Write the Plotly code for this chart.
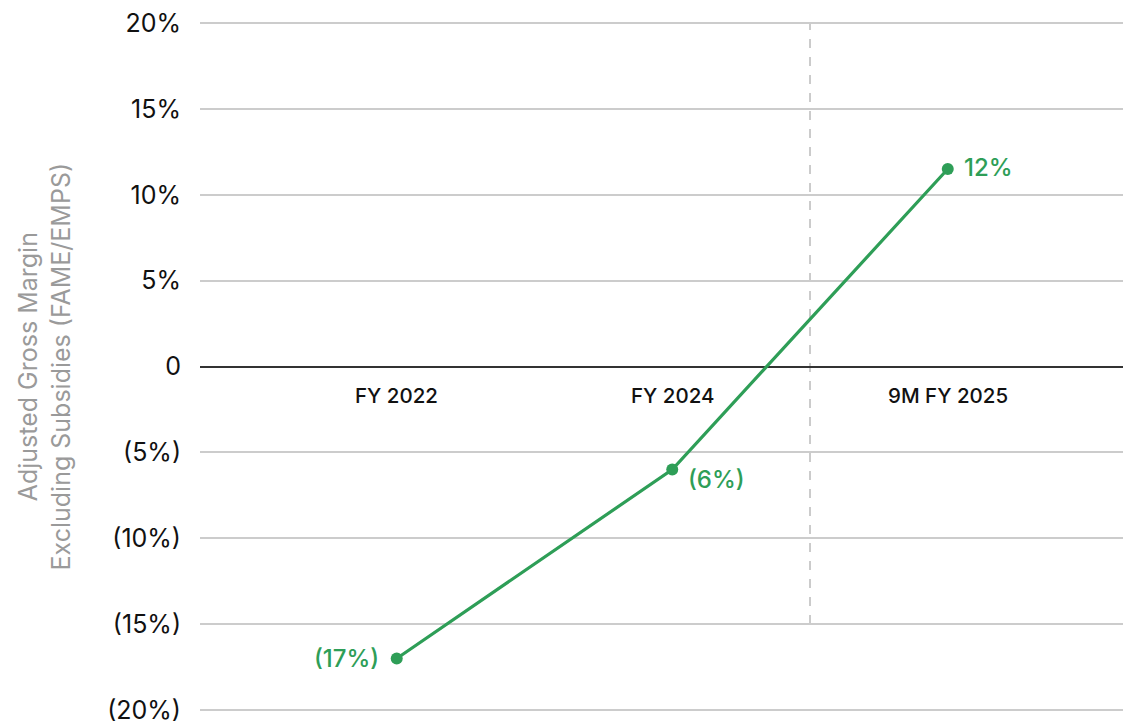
import plotly.graph_objects as go

# Adjusted gross margin excluding subsidies, in percent
periods = ["FY 2022", "FY 2024", "9M FY 2025"]
margin_pct = [-17.0, -6.0, 11.5]

y_ticks = [20, 15, 10, 5, 0, -5, -10, -15, -20]
y_tick_labels = ["20%", "15%", "10%", "5%", "0", "(5%)", "(10%)", "(15%)", "(20%)"]

GREEN = "#2E9E57"
FONT = "Inter, 'Noto Sans', sans-serif"


def fmt_pct(v):
    r = int(round(v))
    return f"({abs(r)}%)" if r < 0 else f"{r}%"


fig = go.Figure()

fig.add_trace(go.Scatter(
    x=periods,
    y=margin_pct,
    mode="lines+markers",
    line=dict(color=GREEN, width=3.2),
    marker=dict(color=GREEN, size=12),
    hoverinfo="skip",
    showlegend=False,
))

# Value labels beside each point
label_offsets = [(-16, 0, "right"), (14, -10, "left"), (14, 2, "left")]
for p, v, (dx, dy, anchor) in zip(periods, margin_pct, label_offsets):
    fig.add_annotation(
        x=p, y=v, text=fmt_pct(v), showarrow=False,
        xanchor=anchor, yanchor="middle", xshift=dx, yshift=dy,
        font=dict(family=FONT, size=24, color=GREEN, weight=500),
    )

# Period labels sitting just under the zero line
for p in periods:
    fig.add_annotation(
        x=p, y=0, text=p, showarrow=False,
        xanchor="center", yanchor="middle", yshift=-29,
        font=dict(family=FONT, size=20.5, color="#111111", weight=500),
    )

# Dashed divider between full-year and year-to-date periods
fig.add_shape(
    type="line", xref="x", yref="y",
    x0=1.5, x1=1.5, y0=-15, y1=20,
    line=dict(color="#BBBBBB", width=1.5, dash="dash"),
    layer="below",
)

# Y-axis title
fig.add_annotation(
    xref="paper", yref="paper", x=-0.168, y=0.5,
    text="Adjusted Gross Margin<br>Excluding Subsidies (FAME/EMPS)",
    showarrow=False, textangle=-90, xanchor="center", yanchor="middle",
    font=dict(family=FONT, size=25, color="#9A9A9A"),
)

fig.update_layout(
    width=1123, height=726,
    margin=dict(l=200, r=0, t=22, b=15),
    paper_bgcolor="white", plot_bgcolor="white",
    font=dict(family=FONT),
    xaxis=dict(
        type="category", range=[-0.714, 2.636],
        showticklabels=False, showgrid=False, zeroline=False, showline=False,
    ),
    yaxis=dict(
        range=[-20.06, 20.06], tickvals=y_ticks, ticktext=y_tick_labels,
        showgrid=True, gridcolor="#CCCCCC", gridwidth=1.5,
        zeroline=True, zerolinecolor="#333333", zerolinewidth=1.5,
        showline=False, ticks="outside", ticklen=13, tickcolor="rgba(0,0,0,0)",
        tickfont=dict(family=FONT, size=25, color="#111111"),
    ),
)

fig.write_html("out.html")
